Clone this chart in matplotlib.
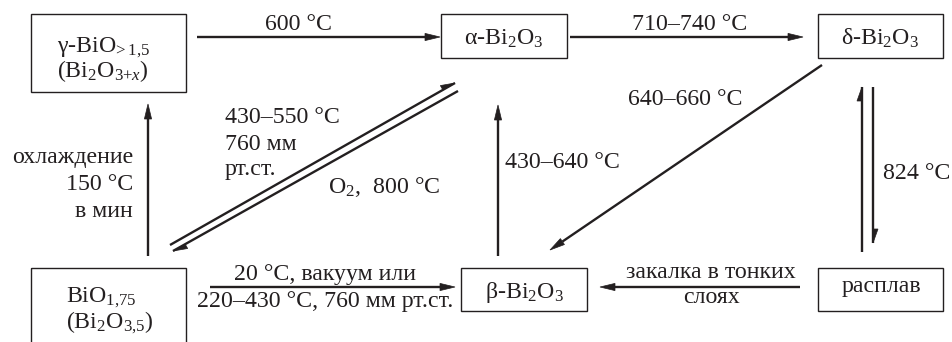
"""Bi2O3 phase transformation scheme."""

import numpy as np
import matplotlib

matplotlib.use("Agg")
import matplotlib.pyplot as plt
import matplotlib.patches as mpatches

plt.rcParams.update(
    {
        "font.family": "Liberation Serif",
        "font.size": 17.2,
        "mathtext.fontset": "custom",
        "mathtext.rm": "Liberation Serif",
        "mathtext.it": "Liberation Serif:italic",
        "mathtext.default": "rm",
    }
)

INK = "#231f20"

# phases (box labels, one list per line)
phase_line1 = [r"γ-BiO$_{\!{>}1{,}5}$", r"α-Bi$_2$O$_3$", r"δ-Bi$_2$O$_3$",
               r"BiO$_{1{,}75}$", r"β-Bi$_2$O$_3$", "расплав"]
phase_line2 = [r"(Bi$_2$O$_{3{+}\mathit{x}}$)", "", "", r"(Bi$_2$O$_{3{,}5}$)", "", ""]

# transition conditions
cond_600 = "600 °C"
cond_710 = "710–740 °C"
cond_640 = "640–660 °C"
cond_824 = "824 °C"
cond_beta_alpha = "430–640 °C"
cond_cool = ["охлаждение", "150 °C", "в мин"]
cond_air = ["430–550 °C", "760 мм", "рт.ст."]
cond_o2 = r"O$_2$,  800 °C"
cond_vac = ["20 °C, вакуум или", "220–430 °C, 760 мм рт.ст."]
cond_quench = ["закалка в тонких", "слоях"]

# layout in pixel coordinates (x0, y0, x1, y1), y downwards
boxes = [(31, 14, 186, 92), (441, 14, 567, 58), (818, 14, 943, 58),
         (31, 268, 186, 360), (461, 268, 587, 311), (818, 268, 943, 311)]
text_pos = [(57, 52, 77, "left"), (504, 45, None, "center"), (880, 45, None, "center"),
            (66, 302, 328, "left"), (524, 298, None, "center"), (881, 292, None, "center")]

fig = plt.figure(figsize=(9.53, 3.42), dpi=100)
ax = fig.add_axes([0, 0, 1, 1])
ax.set_xlim(0, 953)
ax.set_ylim(342, 0)
ax.axis("off")

LW = 1.7


def arrow(p0, p1, hl=15, hw=3.6):
    p0, p1 = np.array(p0, float), np.array(p1, float)
    d = (p1 - p0) / np.hypot(*(p1 - p0))
    n = np.array([-d[1], d[0]])
    base = p1 - hl * d
    ax.plot([p0[0], base[0]], [p0[1], base[1]], color=INK, lw=LW, solid_capstyle="butt")
    ax.add_patch(mpatches.Polygon([p1, base + hw * n, base - hw * n], closed=True,
                                  facecolor=INK, edgecolor=INK, lw=0.5))


def harpoon(p0, p1, side=-1, hl=14, hw=5):
    # one-sided arrowhead; side=-1 puts the barb on the left of the travel direction
    p0, p1 = np.array(p0, float), np.array(p1, float)
    d = (p1 - p0) / np.hypot(*(p1 - p0))
    n = np.array([-d[1], d[0]]) * side
    base = p1 - hl * d
    ax.plot([p0[0], p1[0]], [p0[1], p1[1]], color=INK, lw=LW, solid_capstyle="butt")
    ax.add_patch(mpatches.Polygon([p1, base + hw * n, base], closed=True,
                                  facecolor=INK, edgecolor=INK, lw=0.5))


def label(x, y, s, ha="center"):
    ax.text(x, y, s, ha=ha, va="baseline", color=INK)


for (x0, y0, x1, y1), l1, l2, (tx, ty1, ty2, ha) in zip(boxes, phase_line1, phase_line2, text_pos):
    ax.add_patch(mpatches.Rectangle((x0, y0), x1 - x0, y1 - y0, fill=False,
                                    edgecolor=INK, lw=1.0))
    label(tx, ty1, l1, ha)
    if l2:
        label(tx, ty2, l2, ha)

# top row
arrow((197, 37), (440, 37))
label(299, 30, cond_600)
arrow((570, 37), (803, 37))
label(690, 30, cond_710)

# delta -> beta
arrow((822, 65), (550, 250))
label(685, 105, cond_640)

# delta <-> melt
harpoon((862, 252), (862, 87))
harpoon((873, 87), (873, 243))
label(883, 179, cond_824, "left")

# verticals
arrow((148, 256), (148, 104))
for s, y in zip(cond_cool, (163, 190, 217)):
    label(133, y, s, "right")
arrow((498, 256), (498, 105))
label(505, 168, cond_beta_alpha, "left")

# double diagonal gamma-region <-> alpha
harpoon((170, 245), (455, 83))
harpoon((458, 91), (173, 251))
for s, y in zip(cond_air, (123, 150, 175)):
    label(225, y, s, "left")
label(328, 193, cond_o2, "left")

# bottom row
arrow((210, 287), (455, 287))
label(325, 280, cond_vac[0])
label(325, 307, cond_vac[1])
arrow((800, 287), (600, 287))
label(711, 278, cond_quench[0])
label(712, 303, cond_quench[1])

fig.savefig("out.png", dpi=100, facecolor="white")
